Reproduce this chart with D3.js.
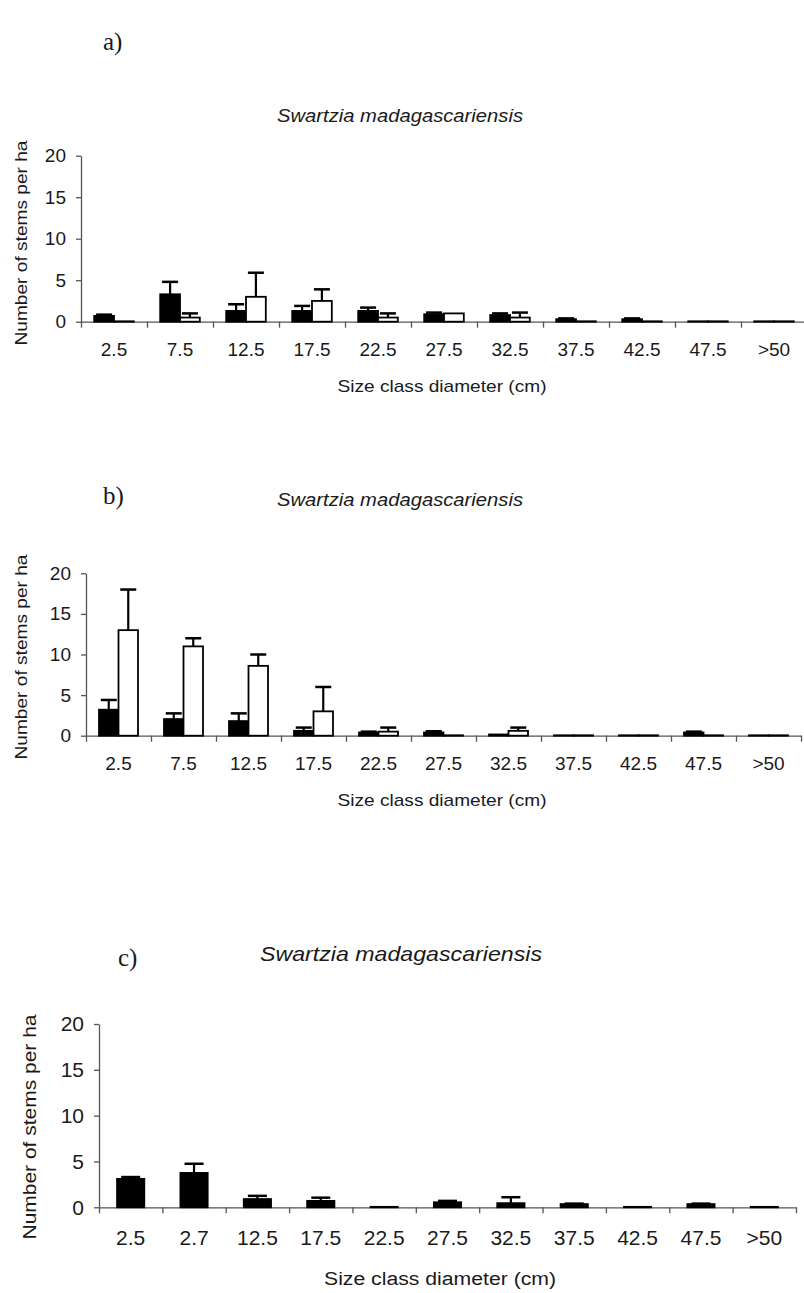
<!DOCTYPE html>
<html>
<head>
<script src="https://cdn.jsdelivr.net/npm/d3@7"></script>
<style>
body { margin: 0; background: white; }
svg text { font-family: Arial, "Liberation Sans", sans-serif; fill: #1a1a1a; }
.axis path, .axis line { stroke: #555; stroke-width: 1.3; }
.panel-tag { font-family: "Liberation Serif", "Times New Roman", serif; font-size: 25px; }
.species { font-style: italic; }
</style>
</head>
<body>
<script>

// size classes (cm)
var classes = ["2.5", "7.5", "12.5", "17.5", "22.5", "27.5", "32.5", "37.5", "42.5", "47.5", ">50"];
var classesC = ["2.5", "2.7", "12.5", "17.5", "22.5", "27.5", "32.5", "37.5", "42.5", "47.5", ">50"];
var yTicks = [0, 5, 10, 15, 20];

// a) black and white series, with upper error
var aBlack    = [0.7, 3.3, 1.3, 1.3, 1.3, 0.9, 0.8, 0.3, 0.3, 0.05, 0.05];
var aBlackErr = [0.15, 1.5, 0.8, 0.6, 0.4, 0.2, 0.2, 0.1, 0.1, 0, 0];
var aWhite    = [0.05, 0.5, 3.0, 2.5, 0.5, 1.0, 0.5, 0.05, 0.05, 0.05, 0.05];
var aWhiteErr = [0, 0.5, 2.9, 1.4, 0.5, 0, 0.6, 0, 0, 0, 0];

// b)
var bBlack    = [3.2, 2.05, 1.8, 0.6, 0.4, 0.4, 0.15, 0.05, 0.05, 0.4, 0.05];
var bBlackErr = [1.2, 0.7, 0.95, 0.4, 0.1, 0.15, 0, 0, 0, 0.1, 0];
var bWhite    = [13.0, 11.0, 8.6, 3.0, 0.5, 0.05, 0.6, 0.05, 0.05, 0.05, 0.05];
var bWhiteErr = [5.0, 1.0, 1.4, 3.0, 0.5, 0, 0.4, 0, 0, 0, 0];

// c) one series
var cBlack    = [3.1, 3.75, 0.9, 0.7, 0.05, 0.55, 0.45, 0.35, 0.05, 0.35, 0.05];
var cBlackErr = [0.2, 1.0, 0.35, 0.35, 0, 0.15, 0.65, 0.05, 0, 0.05, 0];

var w = 804;
var h = 1293;

var svg = d3.select("body").append("svg")
	.attr("width", w)
	.attr("height", h);

function drawPanel(p) {
	var g = svg.append("g");
	var x = d3.scaleBand().domain(p.cats).range([p.x0, p.x1]).padding(0);
	var xEdge = d3.scaleLinear().domain([0, p.cats.length]).range([p.x0, p.x1]);
	var y = d3.scaleLinear().domain([0, 20]).range([p.y0, p.y1]);

	// y axis
	g.append("g").attr("class", "axis")
		.attr("transform", "translate(" + p.x0 + ",0)")
		.call(d3.axisLeft(y).tickValues(yTicks).tickSize(5).tickSizeOuter(0).tickPadding(10))
		.selectAll("text").style("font-size", p.tickFont + "px");

	// x axis: tick marks between classes, labels under each class
	g.append("g").attr("class", "axis")
		.attr("transform", "translate(0," + p.y0 + ")")
		.call(d3.axisBottom(xEdge).tickValues(d3.range(0, p.cats.length + 1)).tickSize(6).tickSizeOuter(0).tickFormat(""));
	var lab = g.append("g").attr("class", "axis")
		.attr("transform", "translate(0," + p.y0 + ")")
		.call(d3.axisBottom(x).tickSize(0).tickPadding(p.labPad));
	lab.select(".domain").remove();
	lab.selectAll("text").style("font-size", p.tickFont + "px");

	var n = p.series.length;
	var groupW = x.bandwidth() * p.groupFrac;
	var barW = groupW / n;

	p.series.forEach(function(s, k) {
		function bx(c) {
			return x(c) + (x.bandwidth() - groupW) / 2 + k * barW;
		}
		var pts = s.values.map(function(v, i) { return {v: v, e: s.err[i], c: p.cats[i]}; });

		g.selectAll(null).data(pts).enter().append("rect")
			.attr("x", function(d) { return bx(d.c); })
			.attr("y", function(d) { return y(d.v); })
			.attr("width", barW)
			.attr("height", function(d) { return y(0) - y(d.v); })
			.style("fill", s.fill)
			.style("stroke", "#000")
			.style("stroke-width", 1.8);

		// upper error bars
		var errs = pts.filter(function(d) { return d.e > 0; });
		var cx = function(d) { return bx(d.c) + barW / 2; };
		g.selectAll(null).data(errs).enter().append("line")
			.attr("x1", cx).attr("x2", cx)
			.attr("y1", function(d) { return y(d.v); })
			.attr("y2", function(d) { return y(d.v + d.e); })
			.style("stroke", "#000").style("stroke-width", 2.2);
		g.selectAll(null).data(errs).enter().append("line")
			.attr("x1", function(d) { return cx(d) - p.capW / 2; })
			.attr("x2", function(d) { return cx(d) + p.capW / 2; })
			.attr("y1", function(d) { return y(d.v + d.e); })
			.attr("y2", function(d) { return y(d.v + d.e); })
			.style("stroke", "#000").style("stroke-width", 2.5);
	});

	// texts
	svg.append("text").attr("class", "panel-tag")
		.attr("x", p.tagX).attr("y", p.tagY).text(p.tag);
	svg.append("text").attr("class", "species")
		.attr("x", p.titleX).attr("y", p.titleY)
		.attr("text-anchor", "middle")
		.attr("textLength", p.titleLen).attr("lengthAdjust", "spacingAndGlyphs")
		.style("font-size", p.titleFont + "px")
		.text("Swartzia madagascariensis");
	svg.append("text")
		.attr("transform", "translate(" + p.ylabX + "," + p.ylabY + ") rotate(-90)")
		.attr("text-anchor", "middle")
		.attr("textLength", p.ylabLen).attr("lengthAdjust", "spacingAndGlyphs")
		.style("font-size", p.labFont + "px")
		.text("Number of stems per ha");
	svg.append("text")
		.attr("x", p.xlabX).attr("y", p.xlabY)
		.attr("text-anchor", "middle")
		.attr("textLength", p.xlabLen).attr("lengthAdjust", "spacingAndGlyphs")
		.style("font-size", p.labFont + "px")
		.text("Size class diameter (cm)");
}

drawPanel({ cats: classes, x0: 81, x1: 807, y0: 321.7, y1: 155.7, groupFrac: 0.6, capW: 16, tickFont: 19, labPad: 21,
	series: [{values: aBlack, err: aBlackErr, fill: "#000"}, {values: aWhite, err: aWhiteErr, fill: "#fff"}],
	tag: "a)", tagX: 103, tagY: 50, titleX: 400, titleY: 122, titleLen: 246, titleFont: 19,
	ylabX: 27, ylabY: 243, ylabLen: 205, labFont: 17, xlabX: 442, xlabY: 392, xlabLen: 209 });

drawPanel({ cats: classes, x0: 86, x1: 801, y0: 735.7, y1: 573.3, groupFrac: 0.6, capW: 16, tickFont: 19, labPad: 21,
	series: [{values: bBlack, err: bBlackErr, fill: "#000"}, {values: bWhite, err: bWhiteErr, fill: "#fff"}],
	tag: "b)", tagX: 103, tagY: 504, titleX: 400, titleY: 506, titleLen: 246, titleFont: 19,
	ylabX: 27, ylabY: 657, ylabLen: 205, labFont: 17, xlabX: 442, xlabY: 806, xlabLen: 209 });

drawPanel({ cats: classesC, x0: 99, x1: 796, y0: 1207.3, y1: 1024, groupFrac: 0.43, capW: 19, tickFont: 21, labPad: 23,
	series: [{values: cBlack, err: cBlackErr, fill: "#000"}],
	tag: "c)", tagX: 118, tagY: 966, titleX: 401, titleY: 961, titleLen: 282, titleFont: 21,
	ylabX: 36, ylabY: 1127, ylabLen: 225, labFont: 18, xlabX: 440, xlabY: 1285, xlabLen: 232 });

</script>
</body>
</html>
